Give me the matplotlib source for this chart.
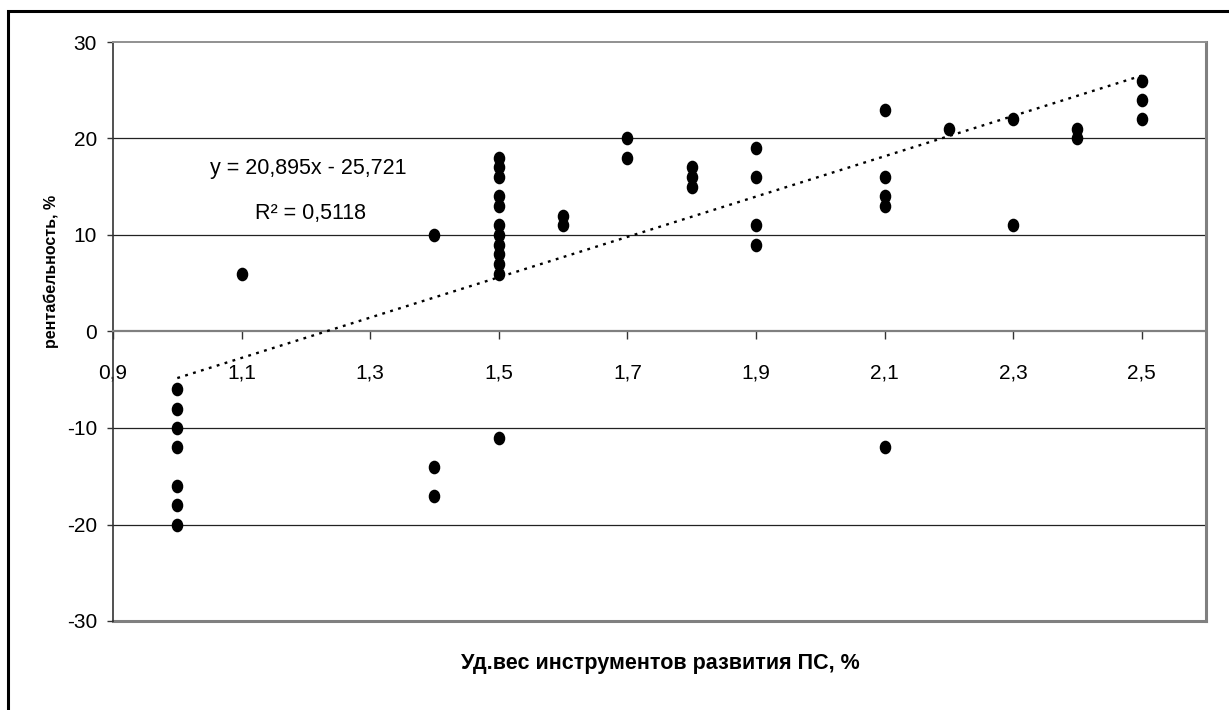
import matplotlib
matplotlib.use('Agg')
import matplotlib.pyplot as plt
from matplotlib.markers import MarkerStyle
from matplotlib.transforms import Affine2D
from matplotlib.patches import Rectangle
from matplotlib.ticker import FuncFormatter

plt.rcParams.update({
    "font.family": ["Liberation Sans", "DejaVu Sans"],
    "axes.unicode_minus": False,
})

# share of development instruments (%) and profitability (%)
x_share = [1.0, 1.0, 1.0, 1.0, 1.0, 1.0, 1.0,
           1.1,
           1.4, 1.4, 1.4,
           1.5, 1.5, 1.5, 1.5, 1.5, 1.5, 1.5, 1.5, 1.5, 1.5, 1.5, 1.5,
           1.6, 1.6,
           1.7, 1.7,
           1.8, 1.8, 1.8,
           1.9, 1.9, 1.9, 1.9,
           2.1, 2.1, 2.1, 2.1, 2.1,
           2.2,
           2.3, 2.3,
           2.4, 2.4,
           2.5, 2.5, 2.5]
profit = [-6, -8, -10, -12, -16, -18, -20,
          6,
          10, -14, -17,
          18, 17, 16, 14, 13, 11, 10, 9, 8, 7, 6, -11,
          12, 11,
          20, 18,
          17, 16, 15,
          19, 16, 11, 9,
          23, 16, 14, 13, -12,
          21,
          22, 11,
          21, 20,
          26, 24, 22]

# linear trend as reported on the chart
slope = 20.895
intercept = -25.721
r_squared = "0,5118"
trend_x = [1.0, 2.5]

x_ticks = [0.9, 1.1, 1.3, 1.5, 1.7, 1.9, 2.1, 2.3, 2.5]
y_ticks = [-30, -20, -10, 0, 10, 20, 30]

W, H = 1229, 710
fig = plt.figure(figsize=(W / 100, H / 100), dpi=100)
fig.patch.set_facecolor("white")

# outer chart frame (left/top visible, right/bottom cut off)
fig.patches.append(Rectangle((8 / W, -0.05), 1.2, 1 - 11 / H + 0.05,
                             transform=fig.transFigure, fill=False,
                             edgecolor="black", lw=2.2))

ax = fig.add_axes([113 / W, 1 - 621 / H, (1206 - 113) / W, (621 - 42) / H])
ax.set_xlim(0.9, 2.6)
ax.set_ylim(-30, 30)

# horizontal gridlines
for yv in [-20, -10, 10, 20]:
    ax.axhline(yv, color="#222222", lw=0.9, zorder=1)
ax.axhline(-30, color="#808080", lw=2.2, zorder=1, clip_on=False)

# spines
ax.spines["bottom"].set_position(("data", 0))
ax.spines["bottom"].set_color("#808080")
ax.spines["bottom"].set_linewidth(1.6)
ax.spines["right"].set_color("#808080")
ax.spines["right"].set_linewidth(2.2)
ax.spines["top"].set_color("#909090")
ax.spines["top"].set_linewidth(1.4)
ax.spines["left"].set_color("#333333")
ax.spines["left"].set_linewidth(1.2)

ax.set_xticks(x_ticks)
ax.set_yticks(y_ticks)
ax.xaxis.set_major_formatter(FuncFormatter(lambda v, p: f"{v:.1f}".replace(".", ",")))
ax.yaxis.set_major_formatter(FuncFormatter(lambda v, p: f"{int(v)}"))
ax.tick_params(axis="x", direction="out", length=6, width=1.0, color="#333333",
               pad=17, labelsize=15)
ax.tick_params(axis="y", direction="out", length=4.5, width=1.0, color="#333333",
               pad=7, labelsize=15)

# scatter points
dot = MarkerStyle("o", transform=Affine2D().scale(0.83, 1.0))
ax.plot(x_share, profit, linestyle="none", marker=dot, markersize=8.8,
        color="black", zorder=4)

# trend line
trend_y = [slope * v + intercept for v in trend_x]
ax.plot(trend_x, trend_y, color="black", lw=1.7, linestyle=(0, (1.2, 2.3)),
        dash_capstyle="butt", zorder=3)

ax.text(1.204, 16.9, f"y = {slope:.3f}x - {abs(intercept):.3f}".replace(".", ","),
        ha="center", va="center", fontsize=15.5)
ax.text(1.207, 12.2, f"R² = {r_squared}", ha="center", va="center", fontsize=15.5)

fig.text(660 / W, 1 - 663 / H, "Уд.вес инструментов развития ПС, %",
         ha="center", va="center", fontsize=15.5, fontweight="bold")
fig.text(51 / W, 1 - 271 / H, "рентабельность, %",
         ha="center", va="center", rotation=90, fontsize=11.5, fontweight="bold")

fig.savefig("out.png", dpi=100)
